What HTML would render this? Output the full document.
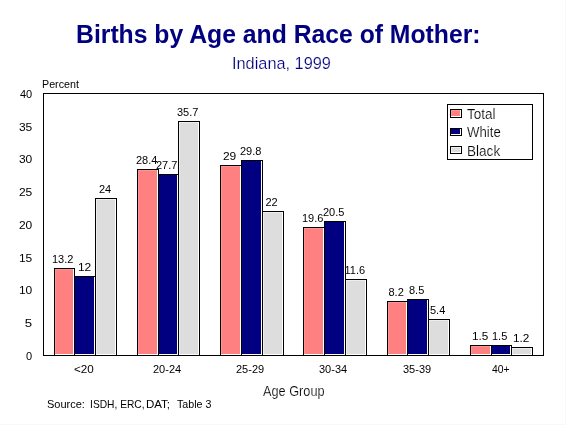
<!DOCTYPE html>
<html><head><meta charset="utf-8"><style>
html,body{margin:0;padding:0;background:#fff;width:566px;height:425px;overflow:hidden}
svg{display:block;will-change:transform}
text{font-family:"Liberation Sans", sans-serif;white-space:pre}
</style></head><body>
<svg width="566" height="425" viewBox="0 0 566 425" shape-rendering="crispEdges">
<rect x="565" y="0" width="1" height="425" fill="#F8F8F8"/>
<rect x="0" y="424" width="566" height="1" fill="#F8F8F8"/>
<rect x="43" y="93" width="501" height="263" fill="#000"/>
<rect x="44" y="94" width="499" height="261" fill="#fff"/>
<rect x="54" y="268" width="21" height="88" fill="#000"/>
<rect x="55" y="269" width="19" height="86" fill="#fff"/>
<rect x="55" y="269" width="18" height="85" fill="#FF9494"/>
<rect x="56" y="270" width="17" height="84" fill="#FF8080"/>
<rect x="74" y="276" width="22" height="80" fill="#000"/>
<rect x="75" y="277" width="20" height="78" fill="#fff"/>
<rect x="75" y="277" width="19" height="77" fill="#000080"/>
<rect x="76" y="278" width="18" height="76" fill="#000080"/>
<rect x="95" y="198" width="22" height="158" fill="#000"/>
<rect x="96" y="199" width="20" height="156" fill="#fff"/>
<rect x="96" y="199" width="19" height="155" fill="#EEEEEE"/>
<rect x="97" y="200" width="18" height="154" fill="#DDDDDD"/>
<rect x="137" y="169" width="22" height="187" fill="#000"/>
<rect x="138" y="170" width="20" height="185" fill="#fff"/>
<rect x="138" y="170" width="19" height="184" fill="#FF9494"/>
<rect x="139" y="171" width="18" height="183" fill="#FF8080"/>
<rect x="158" y="174" width="21" height="182" fill="#000"/>
<rect x="159" y="175" width="19" height="180" fill="#fff"/>
<rect x="159" y="175" width="18" height="179" fill="#000080"/>
<rect x="160" y="176" width="17" height="178" fill="#000080"/>
<rect x="178" y="121" width="22" height="235" fill="#000"/>
<rect x="179" y="122" width="20" height="233" fill="#fff"/>
<rect x="179" y="122" width="19" height="232" fill="#EEEEEE"/>
<rect x="180" y="123" width="18" height="231" fill="#DDDDDD"/>
<rect x="220" y="165" width="22" height="191" fill="#000"/>
<rect x="221" y="166" width="20" height="189" fill="#fff"/>
<rect x="221" y="166" width="19" height="188" fill="#FF9494"/>
<rect x="222" y="167" width="18" height="187" fill="#FF8080"/>
<rect x="241" y="160" width="22" height="196" fill="#000"/>
<rect x="242" y="161" width="20" height="194" fill="#fff"/>
<rect x="242" y="161" width="19" height="193" fill="#000080"/>
<rect x="243" y="162" width="18" height="192" fill="#000080"/>
<rect x="262" y="211" width="22" height="145" fill="#000"/>
<rect x="263" y="212" width="20" height="143" fill="#fff"/>
<rect x="263" y="212" width="19" height="142" fill="#EEEEEE"/>
<rect x="264" y="213" width="18" height="141" fill="#DDDDDD"/>
<rect x="303" y="227" width="22" height="129" fill="#000"/>
<rect x="304" y="228" width="20" height="127" fill="#fff"/>
<rect x="304" y="228" width="19" height="126" fill="#FF9494"/>
<rect x="305" y="229" width="18" height="125" fill="#FF8080"/>
<rect x="324" y="221" width="22" height="135" fill="#000"/>
<rect x="325" y="222" width="20" height="133" fill="#fff"/>
<rect x="325" y="222" width="19" height="132" fill="#000080"/>
<rect x="326" y="223" width="18" height="131" fill="#000080"/>
<rect x="345" y="279" width="22" height="77" fill="#000"/>
<rect x="346" y="280" width="20" height="75" fill="#fff"/>
<rect x="346" y="280" width="19" height="74" fill="#EEEEEE"/>
<rect x="347" y="281" width="18" height="73" fill="#DDDDDD"/>
<rect x="387" y="301" width="21" height="55" fill="#000"/>
<rect x="388" y="302" width="19" height="53" fill="#fff"/>
<rect x="388" y="302" width="18" height="52" fill="#FF9494"/>
<rect x="389" y="303" width="17" height="51" fill="#FF8080"/>
<rect x="407" y="299" width="22" height="57" fill="#000"/>
<rect x="408" y="300" width="20" height="55" fill="#fff"/>
<rect x="408" y="300" width="19" height="54" fill="#000080"/>
<rect x="409" y="301" width="18" height="53" fill="#000080"/>
<rect x="428" y="319" width="22" height="37" fill="#000"/>
<rect x="429" y="320" width="20" height="35" fill="#fff"/>
<rect x="429" y="320" width="19" height="34" fill="#EEEEEE"/>
<rect x="430" y="321" width="18" height="33" fill="#DDDDDD"/>
<rect x="470" y="345" width="22" height="11" fill="#000"/>
<rect x="471" y="346" width="20" height="9" fill="#fff"/>
<rect x="471" y="346" width="19" height="8" fill="#FF9494"/>
<rect x="472" y="347" width="18" height="7" fill="#FF8080"/>
<rect x="491" y="345" width="21" height="11" fill="#000"/>
<rect x="492" y="346" width="19" height="9" fill="#fff"/>
<rect x="492" y="346" width="18" height="8" fill="#000080"/>
<rect x="493" y="347" width="17" height="7" fill="#000080"/>
<rect x="511" y="347" width="22" height="9" fill="#000"/>
<rect x="512" y="348" width="20" height="7" fill="#fff"/>
<rect x="512" y="348" width="19" height="6" fill="#EEEEEE"/>
<rect x="513" y="349" width="18" height="5" fill="#DDDDDD"/>
<rect x="447" y="104" width="86" height="56" fill="#000"/>
<rect x="448" y="105" width="84" height="54" fill="#fff"/>
<rect x="450" y="109" width="12" height="9" fill="#000"/>
<rect x="451" y="110" width="10" height="7" fill="#fff"/>
<rect x="451" y="110" width="9" height="6" fill="#FF9494"/>
<rect x="452" y="111" width="8" height="5" fill="#FF8080"/>
<rect x="450" y="128" width="12" height="8" fill="#000"/>
<rect x="451" y="129" width="10" height="6" fill="#fff"/>
<rect x="451" y="129" width="9" height="5" fill="#000080"/>
<rect x="452" y="130" width="8" height="4" fill="#000080"/>
<rect x="450" y="146" width="12" height="8" fill="#000"/>
<rect x="451" y="147" width="10" height="6" fill="#fff"/>
<rect x="451" y="147" width="9" height="5" fill="#EEEEEE"/>
<rect x="452" y="148" width="8" height="4" fill="#DDDDDD"/>
<g>
<text transform="translate(76.02 43) scale(0.9901 1)" font-size="25" font-weight="bold" fill="#000080">Births by Age and Race of Mother:</text>
<text transform="translate(231.98 69) scale(1.0211 1)" font-size="16" font-weight="normal" fill="#000080" stroke="#fff" stroke-width="0.2">Indiana, 1999</text>
<text transform="translate(42.03 88) scale(0.9730 1)" font-size="11" font-weight="normal" fill="#000">Percent</text>
<text transform="translate(467.00 119) scale(0.9655 1)" font-size="14" font-weight="normal" fill="#000" stroke="#fff" stroke-width="0.2">Total</text>
<text transform="translate(467.00 137) scale(0.9429 1)" font-size="14" font-weight="normal" fill="#000" stroke="#fff" stroke-width="0.2">White</text>
<text transform="translate(467.03 156) scale(0.9697 1)" font-size="14" font-weight="normal" fill="#000" stroke="#fff" stroke-width="0.2">Black</text>
<text transform="translate(263.00 396) scale(0.9104 1)" font-size="14" font-weight="normal" fill="#000" stroke="#fff" stroke-width="0.2">Age Group</text>
<text transform="translate(47.00 408) scale(1.0000 1)" font-size="11" font-weight="normal" fill="#000">Source:</text>
<text transform="translate(90.07 408) scale(0.9298 1)" font-size="11" font-weight="normal" fill="#000">ISDH, ERC,</text>
<text transform="translate(145.95 408) scale(1.0476 1)" font-size="11" font-weight="normal" fill="#000">DAT;</text>
<text transform="translate(177.00 408) scale(0.9714 1)" font-size="11" font-weight="normal" fill="#000">Table 3</text>
<text transform="translate(73.94 373) scale(1.0588 1)" font-size="11" font-weight="normal" fill="#000">&lt;20</text>
<text transform="translate(153.00 373) scale(1.0000 1)" font-size="11" font-weight="normal" fill="#000">20-24</text>
<text transform="translate(236.00 373) scale(1.0000 1)" font-size="11" font-weight="normal" fill="#000">25-29</text>
<text transform="translate(319.00 373) scale(1.0000 1)" font-size="11" font-weight="normal" fill="#000">30-34</text>
<text transform="translate(403.00 373) scale(1.0000 1)" font-size="11" font-weight="normal" fill="#000">35-39</text>
<text transform="translate(492.00 373) scale(0.9444 1)" font-size="11" font-weight="normal" fill="#000">40+</text>
<text transform="translate(26.00 360) scale(1.0000 1)" font-size="11" font-weight="normal" fill="#000">0</text>
<text transform="translate(24.80 327) scale(1.2000 1)" font-size="11" font-weight="normal" fill="#000">5</text>
<text transform="translate(18.91 294) scale(1.0909 1)" font-size="11" font-weight="normal" fill="#000">10</text>
<text transform="translate(18.91 262) scale(1.0909 1)" font-size="11" font-weight="normal" fill="#000">15</text>
<text transform="translate(18.91 229) scale(1.0909 1)" font-size="11" font-weight="normal" fill="#000">20</text>
<text transform="translate(18.91 196) scale(1.0909 1)" font-size="11" font-weight="normal" fill="#000">25</text>
<text transform="translate(18.91 163) scale(1.0909 1)" font-size="11" font-weight="normal" fill="#000">30</text>
<text transform="translate(18.91 131) scale(1.0909 1)" font-size="11" font-weight="normal" fill="#000">35</text>
<text transform="translate(20.00 98) scale(1.0000 1)" font-size="11" font-weight="normal" fill="#000">40</text>
<text transform="translate(52.00 263) scale(1.0000 1)" font-size="11" font-weight="normal" fill="#000">13.2</text>
<text transform="translate(77.91 271) scale(1.0909 1)" font-size="11" font-weight="normal" fill="#000">12</text>
<text transform="translate(99.00 193) scale(1.0000 1)" font-size="11" font-weight="normal" fill="#000">24</text>
<text transform="translate(136.00 164) scale(1.0000 1)" font-size="11" font-weight="normal" fill="#000">28.4</text>
<text transform="translate(156.00 169) scale(1.0000 1)" font-size="11" font-weight="normal" fill="#000">27.7</text>
<text transform="translate(177.00 116) scale(1.0000 1)" font-size="11" font-weight="normal" fill="#000">35.7</text>
<text transform="translate(222.91 160) scale(1.0909 1)" font-size="11" font-weight="normal" fill="#000">29</text>
<text transform="translate(240.00 155) scale(1.0000 1)" font-size="11" font-weight="normal" fill="#000">29.8</text>
<text transform="translate(265.50 206) scale(1.0000 1)" font-size="11" font-weight="normal" fill="#000">22</text>
<text transform="translate(302.00 222) scale(1.0000 1)" font-size="11" font-weight="normal" fill="#000">19.6</text>
<text transform="translate(323.00 216) scale(1.0000 1)" font-size="11" font-weight="normal" fill="#000">20.5</text>
<text transform="translate(344.50 274) scale(1.0000 1)" font-size="11" font-weight="normal" fill="#000">11.6</text>
<text transform="translate(388.50 296) scale(1.0000 1)" font-size="11" font-weight="normal" fill="#000">8.2</text>
<text transform="translate(409.00 294) scale(1.0000 1)" font-size="11" font-weight="normal" fill="#000">8.5</text>
<text transform="translate(430.00 314) scale(1.0000 1)" font-size="11" font-weight="normal" fill="#000">5.4</text>
<text transform="translate(471.93 340) scale(1.0714 1)" font-size="11" font-weight="normal" fill="#000">1.5</text>
<text transform="translate(492.00 340) scale(1.0000 1)" font-size="11" font-weight="normal" fill="#000">1.5</text>
<text transform="translate(512.93 342) scale(1.0714 1)" font-size="11" font-weight="normal" fill="#000">1.2</text>
</g>
</svg>
</body></html>
